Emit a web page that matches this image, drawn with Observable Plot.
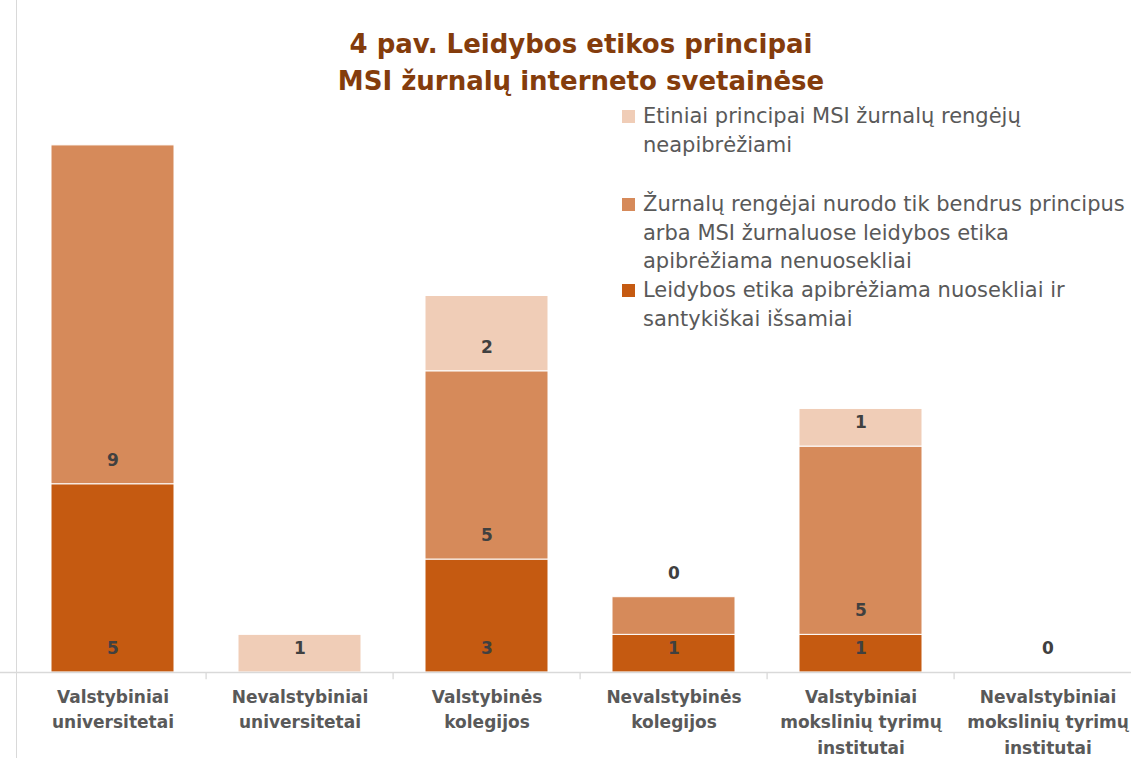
<!DOCTYPE html>
<html>
<head>
<meta charset="utf-8">
<script src="https://cdn.jsdelivr.net/npm/d3@7"></script>
<script src="https://cdn.jsdelivr.net/npm/@observablehq/plot@0.6"></script>
<style>
  html, body { margin: 0; padding: 0; background: #fff; }
  #wrap { position: relative; width: 1131px; height: 758px; overflow: hidden; font-family: "DejaVu Sans", sans-serif; }
  #title { position: absolute; left: 0; top: 26px; width: 1162px; text-align: center; font-weight: 700; font-size: 26px; line-height: 37px; color: #843C0C; }
  #frame { position: absolute; left: 16px; top: 0; width: 0; height: 758px; border-left: 1px solid #D9D9D9; }
  #legend { position: absolute; left: 622px; top: 0; font-size: 21px; color: #595959; }
  .item { position: absolute; left: 0; white-space: nowrap; line-height: 28.5px; }
  .sw { position: absolute; left: 0; top: 8px; width: 13px; height: 13px; }
  .txt { position: absolute; left: 21px; top: 0; }
  #chart { position: absolute; left: 0; top: 0; }
</style>
</head>
<body>
<div id="wrap">
  <div id="frame"></div>
  <div id="chart"></div>
  <div id="title"></div>
  <div id="legend"></div>
</div>
<script>
const titleLines = ["4 pav. Leidybos etikos principai", "MSI žurnalų interneto svetainėse"];

const categories = [
  "Valstybiniai universitetai",
  "Nevalstybiniai universitetai",
  "Valstybinės kolegijos",
  "Nevalstybinės kolegijos",
  "Valstybiniai mokslinių tyrimų institutai",
  "Nevalstybiniai mokslinių tyrimų institutai"
];
const categoryLines = [
  "Valstybiniai\nuniversitetai",
  "Nevalstybiniai\nuniversitetai",
  "Valstybinės\nkolegijos",
  "Nevalstybinės\nkolegijos",
  "Valstybiniai\nmokslinių tyrimų\ninstitutai",
  "Nevalstybiniai\nmokslinių tyrimų\ninstitutai"
];

const series = [
  "Leidybos etika apibrėžiama nuosekliai ir santykiškai išsamiai",
  "Žurnalų rengėjai nurodo tik bendrus principus arba MSI žurnaluose leidybos etika apibrėžiama nenuosekliai",
  "Etiniai principai MSI žurnalų rengėjų neapibrėžiami"
];
const legendLines = [
  ["Leidybos etika apibrėžiama nuosekliai ir", "santykiškai išsamiai"],
  ["Žurnalų rengėjai nurodo tik bendrus principus", "arba MSI žurnaluose leidybos etika", "apibrėžiama nenuosekliai"],
  ["Etiniai principai MSI žurnalų rengėjų", "neapibrėžiami"]
];
const colors = ["#C55A11", "#D68A5A", "#F0CDB7"];

// values per series (bottom to top)
const consistent = [5, 0, 3, 1, 1, 0];
const general    = [9, 0, 5, 1, 5, 0];
const undefinedP = [0, 1, 2, 0, 1, 0];
// data labels as shown in the reference ("" = not shown)
const consistentLabels = ["5", "", "3", "1", "1", "0"];
const generalLabels    = ["9", "", "5", "", "5", ""];
const undefinedLabels  = ["", "1", "2", "0", "1", ""];

const valuesBySeries = [consistent, general, undefinedP];
const labelsBySeries = [consistentLabels, generalLabels, undefinedLabels];

const rows = [];
categories.forEach((c, i) => {
  series.forEach((s, j) => {
    rows.push({cat: c, series: s, value: valuesBySeries[j][i], label: labelsBySeries[j][i]});
  });
});

document.getElementById("title").innerHTML = titleLines.join("<br>");

// legend (top to bottom: undefined, general, consistent)
const legendTops = [[2, 102], [1, 190], [0, 276]];
const legend = document.getElementById("legend");
legendTops.forEach(([j, top]) => {
  const it = document.createElement("div");
  it.className = "item";
  it.style.top = top + "px";
  it.innerHTML = `<div class="sw" style="background:${colors[j]}"></div><div class="txt">${legendLines[j].join("<br>")}</div>`;
  legend.appendChild(it);
});

const chart = Plot.plot({
  width: 1131,
  height: 758,
  margin: 0,
  style: {fontFamily: "'DejaVu Sans', sans-serif", background: "transparent"},
  x: {domain: categories, range: [17, 1144], paddingInner: 0.34, paddingOuter: 0.17, axis: null},
  y: {domain: [0, 14], range: [672, 144.9], axis: null},
  color: {domain: series, range: colors},
  marks: [
    Plot.barY(rows, {x: "cat", y: "value", fill: "series", stroke: "white", strokeWidth: 1}),
    Plot.ruleY([0], {stroke: "#D9D9D9", strokeWidth: 1.3}),
    Plot.ruleX(categories.slice(1), {x: d => d, dx: -93.9, y1: 0, y2: -0.19, stroke: "#D9D9D9", strokeWidth: 1.3}),
    Plot.text(rows, Plot.stackY1({x: "cat", y: "value", text: "label", dy: -24, fill: "#404040", fontWeight: "bold", fontSize: 17})),
    Plot.text(categories, {x: d => d, y: 0, text: (d, i) => categoryLines[i], dy: 12, lineAnchor: "top", lineHeight: 1.5, fill: "#595959", fontWeight: "bold", fontSize: 17})
  ]
});
document.getElementById("chart").appendChild(chart);
</script>
</body>
</html>
